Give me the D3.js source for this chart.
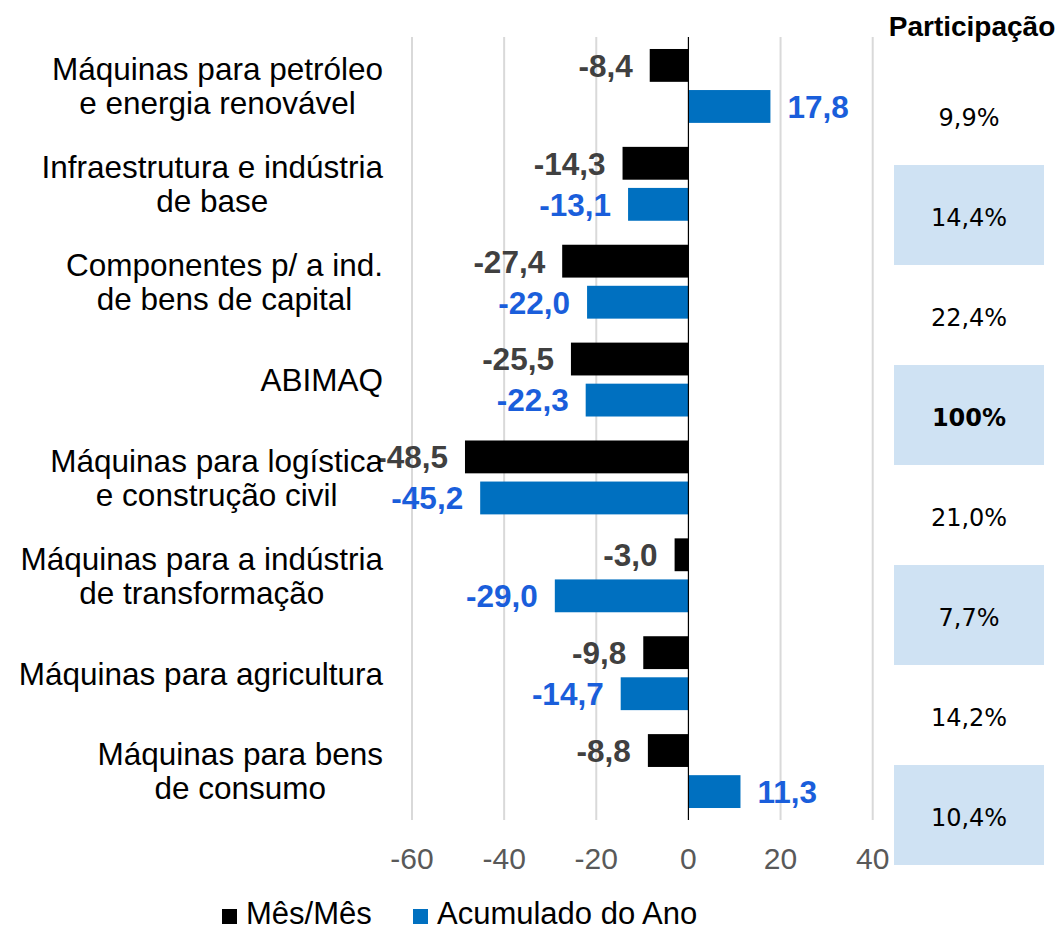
<!DOCTYPE html>
<html>
<head>
<meta charset="utf-8">
<script src="https://cdn.jsdelivr.net/npm/d3@7"></script>
<style>
  body { margin: 0; background: #fff; }
  svg text { font-family: "Liberation Sans", Arial, sans-serif; }
</style>
</head>
<body>
<div id="chart"></div>
<script>
const categories = [
  ["Máquinas para petróleo", "e energia renovável"],
  ["Infraestrutura e indústria", "de base"],
  ["Componentes p/ a ind.", "de bens de capital"],
  ["ABIMAQ"],
  ["Máquinas para logística", "e construção civil"],
  ["Máquinas para a indústria", "de transformação"],
  ["Máquinas para agricultura"],
  ["Máquinas para bens", "de consumo"]
];
const mesMes = [-8.4, -14.3, -27.4, -25.5, -48.5, -3.0, -9.8, -8.8];
const acumulado = [17.8, -13.1, -22.0, -22.3, -45.2, -29.0, -14.7, 11.3];
const participacao = ["9,9%", "14,4%", "22,4%", "100%", "21,0%", "7,7%", "14,2%", "10,4%"];
const xTicks = [-60, -40, -20, 0, 20, 40];
const seriesNames = ["Mês/Mês", "Acumulado do Ano"];

const width = 1059, height = 930;
const colors = ["#000000", "#0070C0"];
const labelColors = ["#404040", "#1A5EDB"];
const fmt = d => d.toFixed(1).replace(".", ",");

const svg = d3.select("#chart").append("svg")
  .attr("width", width).attr("height", height);

const x = d3.scaleLinear().domain([-60, 40]).range([412, 872.7]);
const y = d3.scaleBand().domain(d3.range(categories.length))
  .range([37, 820]).paddingInner(0.245).paddingOuter(0.1225);
const ySub = d3.scaleBand().domain([0, 1]).range([0, y.bandwidth()]).paddingInner(0.2);

// gridlines
svg.append("g").selectAll("line").data(xTicks.filter(d => d !== 0)).join("line")
  .attr("x1", d => x(d)).attr("x2", d => x(d))
  .attr("y1", 37).attr("y2", 820)
  .attr("stroke", "#D9D9D9").attr("stroke-width", 2);

// x tick labels
svg.append("g").selectAll("text").data(xTicks).join("text")
  .attr("x", d => x(d)).attr("y", 869)
  .attr("text-anchor", "middle")
  .attr("font-size", 30).attr("fill", "#595959")
  .text(d => String(d));

// bars
const series = [mesMes, acumulado];
series.forEach((vals, s) => {
  const g = svg.append("g");
  g.selectAll("rect").data(vals).join("rect")
    .attr("x", d => x(Math.min(0, d)))
    .attr("width", d => Math.abs(x(d) - x(0)))
    .attr("y", (d, i) => y(i) + ySub(s))
    .attr("height", ySub.bandwidth())
    .attr("fill", colors[s]);
  g.selectAll("text").data(vals).join("text")
    .attr("x", d => d < 0 ? x(d) - 17 : x(d) + 17)
    .attr("y", (d, i) => y(i) + ySub(s) + ySub.bandwidth() / 2)
    .attr("dy", "0.36em")
    .attr("text-anchor", d => d < 0 ? "end" : "start")
    .attr("font-size", 31.5).attr("font-weight", "bold")
    .attr("fill", labelColors[s])
    .text(fmt);
});

// zero line
svg.append("line")
  .attr("x1", x(0)).attr("x2", x(0)).attr("y1", 37).attr("y2", 820)
  .attr("stroke", "#000").attr("stroke-width", 1.2);

// category labels: block right-aligned at the axis, lines centred in block
const catG = svg.append("g");
categories.forEach((lines, i) => {
  const cy = y(i) + y.bandwidth() / 2;
  const t = catG.append("text").attr("font-size", 31.5).attr("fill", "#000")
    .attr("text-anchor", "middle");
  const lh = 34;
  lines.forEach((line, j) => {
    t.append("tspan")
      .attr("y", cy + (j - (lines.length - 1) / 2) * lh)
      .attr("dy", "0.36em")
      .text(line);
  });
  const maxW = d3.max(t.selectAll("tspan").nodes(), n => n.getComputedTextLength());
  t.selectAll("tspan").attr("x", 383 - maxW / 2);
});

// participation column
const rows = d3.scaleBand().domain(d3.range(participacao.length)).range([65, 865]);
svg.append("text")
  .attr("x", 972).attr("y", 36)
  .attr("text-anchor", "middle")
  .attr("font-size", 28).attr("font-weight", "bold")
  .text("Participação");
svg.append("g").selectAll("rect").data(participacao).join("rect")
  .filter((d, i) => i % 2 === 1)
  .attr("x", 894).attr("width", 150)
  .attr("y", (d, i) => rows(i * 2 + 1))
  .attr("height", rows.bandwidth())
  .attr("fill", "#CFE2F3");
svg.append("g").selectAll("text").data(participacao).join("text")
  .attr("x", 969)
  .attr("y", (d, i) => rows(i) + rows.bandwidth() / 2 + 2)
  .attr("dy", "0.36em")
  .attr("text-anchor", "middle")
  .style("font-family", "'DejaVu Sans', Verdana, sans-serif")
  .attr("font-size", 24)
  .attr("font-weight", (d, i) => i === 3 ? "bold" : "normal")
  .text(d => d);

// legend
const legendX = [222, 413];
const lg = svg.append("g").selectAll("g").data(seriesNames).join("g")
  .attr("transform", (d, i) => `translate(${legendX[i]},909)`);
lg.append("rect").attr("width", 15).attr("height", 15)
  .attr("fill", (d, i) => colors[i]);
lg.append("text").attr("x", 24).attr("y", 15)
  .attr("font-size", 31).attr("fill", "#000")
  .text(d => d);
</script>
</body>
</html>
